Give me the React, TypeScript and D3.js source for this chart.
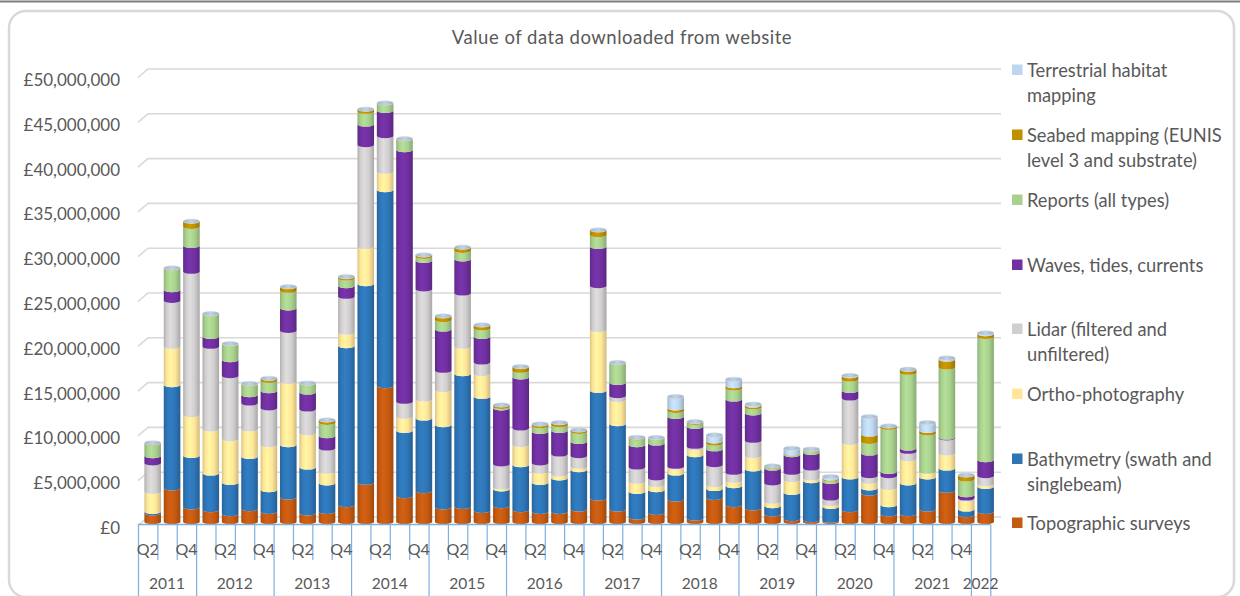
import React from 'react';
import * as d3 from 'd3';

// ---------- DATA (values in £ millions) ----------
const yearGroups: { year: string; quarters: string[] }[] = [
  { year: '2011', quarters: ['Q2', 'Q3', 'Q4'] },
  { year: '2012', quarters: ['Q1', 'Q2', 'Q3', 'Q4'] },
  { year: '2013', quarters: ['Q1', 'Q2', 'Q3', 'Q4'] },
  { year: '2014', quarters: ['Q1', 'Q2', 'Q3', 'Q4'] },
  { year: '2015', quarters: ['Q1', 'Q2', 'Q3', 'Q4'] },
  { year: '2016', quarters: ['Q1', 'Q2', 'Q3', 'Q4'] },
  { year: '2017', quarters: ['Q1', 'Q2', 'Q3', 'Q4'] },
  { year: '2018', quarters: ['Q1', 'Q2', 'Q3', 'Q4'] },
  { year: '2019', quarters: ['Q1', 'Q2', 'Q3', 'Q4'] },
  { year: '2020', quarters: ['Q1', 'Q2', 'Q3', 'Q4'] },
  { year: '2021', quarters: ['Q1', 'Q2', 'Q3', 'Q4'] },
  { year: '2022', quarters: ['Q1'] },
];

const topographic = [0.97, 3.76, 1.64, 1.34, 0.89, 1.45, 1.15, 2.75, 0.97, 1.15, 1.90, 4.39, 15.18, 2.90, 3.46, 1.64, 1.71, 1.26, 1.79, 1.34, 1.15, 1.15, 1.41, 2.64, 1.41, 0.52, 1.04, 2.53, 0.41, 2.70, 1.90, 1.53, 0.86, 0.33, 0.22, 0.15, 1.34, 3.20, 0.86, 0.89, 1.41, 3.50, 0.78, 1.15];
const bathymetry = [0.18, 11.53, 5.76, 4.09, 3.50, 5.84, 2.42, 5.84, 5.13, 3.17, 17.74, 22.17, 21.87, 7.29, 8.11, 9.19, 14.81, 12.73, 1.86, 5.02, 3.24, 3.73, 4.39, 12.02, 9.53, 2.86, 2.53, 2.90, 7.07, 1.00, 2.12, 4.35, 0.93, 2.94, 4.36, 1.56, 3.65, 0.56, 1.04, 3.43, 3.58, 2.49, 0.63, 2.79];
const orthoPhotography = [2.23, 4.28, 4.54, 4.91, 4.87, 3.05, 5.02, 7.07, 3.80, 1.30, 1.49, 4.17, 2.05, 1.56, 2.12, 3.90, 3.05, 2.53, 0.22, 2.23, 1.23, 0.44, 0.38, 6.77, 2.68, 1.12, 0.56, 0.67, 0.74, 0.43, 0.59, 1.49, 0.48, 1.42, 0.29, 0.30, 3.86, 0.74, 1.93, 2.68, 0.63, 1.67, 1.12, 0.30];
const lidar = [3.17, 5.13, 16.00, 9.23, 7.03, 2.90, 4.10, 5.69, 2.67, 2.60, 4.02, 11.35, 3.98, 1.68, 12.28, 2.16, 5.95, 1.30, 2.57, 1.86, 0.93, 2.23, 1.19, 4.91, 0.44, 1.60, 0.75, 0.08, 0.19, 2.23, 0.90, 1.71, 2.05, 0.82, 1.12, 0.63, 4.95, 0.63, 1.30, 0.85, 0, 1.68, 0.11, 0.89];
const waves = [0.82, 1.19, 2.90, 1.11, 1.79, 0.93, 1.93, 2.50, 1.90, 1.38, 1.19, 2.30, 2.83, 28.09, 3.20, 4.61, 3.80, 2.86, 6.25, 5.70, 3.53, 2.64, 1.59, 4.39, 1.49, 2.49, 3.90, 5.57, 2.23, 1.77, 8.18, 3.05, 1.67, 1.97, 1.75, 1.86, 0.86, 2.53, 0.49, 0.37, 0, 0.11, 0.37, 1.79];
const reports = [1.41, 2.42, 2.12, 2.53, 1.79, 1.23, 1.15, 1.97, 1.01, 1.48, 0.85, 1.42, 0.82, 1.23, 0.44, 1.04, 0.96, 0.94, 0.18, 0.74, 0.63, 0.64, 1.12, 1.30, 2.23, 0.75, 0.63, 0.67, 0.44, 0.65, 1.23, 0.67, 0.19, 0.11, 0.37, 0.26, 1.26, 1.30, 4.91, 8.45, 4.28, 7.81, 1.75, 13.76];
const seabed = [0.05, 0.04, 0.60, 0.04, 0.03, 0.05, 0.26, 0.44, 0.02, 0.30, 0.19, 0.26, 0.03, 0.02, 0.19, 0.45, 0.38, 0.37, 0.19, 0.45, 0.22, 0.26, 0.19, 0.56, 0.02, 0.11, 0.02, 0.27, 0.12, 0.23, 0.26, 0.22, 0.07, 0.07, 0.02, 0.11, 0.37, 0.82, 0.18, 0.37, 0.29, 0.89, 0.49, 0.30];
const terrestrial = [0, 0, 0, 0, 0, 0, 0, 0, 0, 0, 0, 0, 0, 0, 0, 0, 0, 0, 0, 0, 0, 0, 0, 0, 0, 0, 0, 1.30, 0, 0.70, 0.74, 0.13, 0, 0.56, 0, 0.19, 0.06, 1.97, 0, 0, 0.90, 0.15, 0, 0.12];

const seriesNames = [
  'Topographic surveys',
  'Bathymetry (swath and singlebeam)',
  'Ortho-photography',
  'Lidar (filtered and unfiltered)',
  'Waves, tides, currents',
  'Reports (all types)',
  'Seabed mapping (EUNIS level 3 and substrate)',
  'Terrestrial habitat mapping',
];
const legendLines = [
  ['Topographic surveys'],
  ['Bathymetry (swath and', 'singlebeam)'],
  ['Ortho-photography'],
  ['Lidar (filtered and', 'unfiltered)'],
  ['Waves, tides, currents'],
  ['Reports (all types)'],
  ['Seabed mapping (EUNIS', 'level 3 and substrate)'],
  ['Terrestrial habitat', 'mapping'],
];
const seriesValues = [topographic, bathymetry, orthoPhotography, lidar, waves, reports, seabed, terrestrial];
const seriesColors = ['#c55a11', '#2e75b6', '#ffe699', '#d0cece', '#7030a0', '#a9d18e', '#bf9000', '#bdd7ee'];
const yTicks = [0, 5, 10, 15, 20, 25, 30, 35, 40, 45, 50];
const title = 'Value of data downloaded from website';

// ---------- LAYOUT ----------
const W = 1240;
const H = 596;
const font = 'Lato, "Open Sans", sans-serif';
const textColor = '#595959';

export default function App() {
  const periods: string[] = [];
  yearGroups.forEach((g) => g.quarters.forEach((q) => periods.push(`${g.year}-${q}`)));

  const x = d3.scaleBand<string>().domain(periods).range([138, 990.3]).paddingInner(0).paddingOuter(0);
  const y = d3.scaleLinear().domain([0, 50]).range([522, 74]);
  const bw = x.bandwidth();
  const depthX = 5;
  const backY = (v: number) => y(v) - 5;
  const frontY = (v: number) => y(v) + 3.5;
  const barW = 16.6;
  const rx = barW / 2;
  const ry = 2.2;

  const stackData = periods.map((p, i) => {
    const row: any = { period: p };
    seriesNames.forEach((n, k) => (row[n] = seriesValues[k][i]));
    return row;
  });
  const stacked = d3.stack<any>().keys(seriesNames)(stackData);

  const fmt = (v: number) => (v === 0 ? '£0' : '£' + d3.format(',')(v * 1e6));

  const yearBounds: number[] = [];
  let idx = 0;
  yearGroups.forEach((g) => {
    yearBounds.push(idx);
    idx += g.quarters.length;
  });
  yearBounds.push(idx);
  const xAt = (i: number) => (i < periods.length ? (x(periods[i]) as number) : (x(periods[periods.length - 1]) as number) + bw);

  const segPath = (cx: number, y0: number, y1: number) => {
    const xl = cx - rx;
    const xr = cx + rx;
    return `M${xl},${y1} A${rx},${ry} 0 0 0 ${xr},${y1} L${xr},${y0} A${rx},${ry} 0 0 1 ${xl},${y0} Z`;
  };

  const gridRight = 1001;

  return (
    <div style={{ position: 'absolute', left: 0, top: 0 }}>
      <svg width={W} height={H} style={{ display: 'block', background: '#fff' }}>
        <defs>
          {seriesColors.map((c, k) => {
            const base = d3.color(c)!;
            return (
              <linearGradient key={k} id={`g${k}`} x1="0" x2="1" y1="0" y2="0">
                <stop offset="0%" stopColor={base.darker(0.45).formatHex()} />
                <stop offset="18%" stopColor={c} />
                <stop offset="40%" stopColor={base.brighter(0.2).formatHex()} />
                <stop offset="70%" stopColor={c} />
                <stop offset="100%" stopColor={base.darker(0.6).formatHex()} />
              </linearGradient>
            );
          })}
          <linearGradient id="cap" x1="0" x2="1" y1="0" y2="0">
            <stop offset="0%" stopColor="#9fb4c8" />
            <stop offset="50%" stopColor="#c3d3e2" />
            <stop offset="100%" stopColor="#9bb0c4" />
          </linearGradient>
        </defs>

        <line x1={0} x2={W} y1={1.5} y2={1.5} stroke="#7f7f7f" strokeWidth={2} />
        <rect x={9} y={11} width={1225} height={586} rx={17} ry={17} fill="#fff" stroke="#d9d9d9" strokeWidth={2.5} />

        <text x={622} y={37} textAnchor="middle" dominantBaseline="central" fontFamily={font} fontSize={18.5} letterSpacing={0.5} fill={textColor}>
          {title}
        </text>

        {yTicks.map((t) => (
          <g key={t}>
            <path
              d={`M138,${frontY(t)} L148,${backY(t)} L${gridRight},${backY(t)}`}
              fill="none"
              stroke="#d9d9d9"
              strokeWidth={1.6}
            />
            <text x={120} y={frontY(t) + 2} textAnchor="end" dominantBaseline="central" fontFamily={font} fontSize={17} fill={textColor}>
              {fmt(t)}
            </text>
          </g>
        ))}

        {periods.map((p, i) => {
          const cx = (x(p) as number) + bw / 2 + depthX;
          let topVal = 0;
          stacked.forEach((s) => {
            if (s[i][1] - s[i][0] > 0) topVal = s[i][1];
          });
          return (
            <g key={p}>
              {stacked.map((s, k) => {
                const d = s[i];
                if (d[1] - d[0] <= 0) return null;
                return <path key={k} d={segPath(cx, y(d[0]), y(d[1]))} fill={`url(#g${k})`} />;
              })}
              <ellipse cx={cx} cy={y(topVal)} rx={rx} ry={ry} fill="url(#cap)" stroke="#c9d6e2" strokeWidth={0.5} />
            </g>
          );
        })}

        <line x1={138} x2={xAt(periods.length)} y1={524.5} y2={524.5} stroke="#7eb0e0" strokeWidth={1.3} />
        {d3.range(periods.length + 1).map((i) => {
          const isYear = yearBounds.includes(i);
          return (
            <line key={i} x1={xAt(i) + 0.5} x2={xAt(i) + 0.5} y1={524.5} y2={isYear ? 600 : 560} stroke="#7eb0e0" strokeWidth={1.2} />
          );
        })}
        {periods.map((p, i) =>
          i % 2 === 0 ? (
            <text key={p} x={(x(p) as number) + bw / 2} y={548} textAnchor="middle" dominantBaseline="central" fontFamily={font} fontSize={16} fill={textColor}>
              {p.split('-')[1]}
            </text>
          ) : null
        )}
        {yearGroups.map((g, k) => {
          const x0 = xAt(yearBounds[k]);
          const x1 = xAt(yearBounds[k + 1]);
          return (
            <text key={g.year} x={(x0 + x1) / 2} y={583} textAnchor="middle" dominantBaseline="central" fontFamily={font} fontSize={15.5} fill={textColor}>
              {g.year}
            </text>
          );
        })}

        {[7, 6, 5, 4, 3, 2, 1, 0].map((k, j) => {
          const ys = [70, 135, 200, 265, 329, 394, 459, 523];
          const yy = ys[j];
          return (
            <g key={k}>
              <rect x={1012} y={yy - 5.5} width={10.5} height={10.5} fill={seriesColors[k]} />
              {legendLines[k].map((line, li) => (
                <text key={li} x={1027} y={yy + li * 24.5} dominantBaseline="central" fontFamily={font} fontSize={18.3} fill={textColor}>
                  {line}
                </text>
              ))}
            </g>
          );
        })}
      </svg>
    </div>
  );
}
